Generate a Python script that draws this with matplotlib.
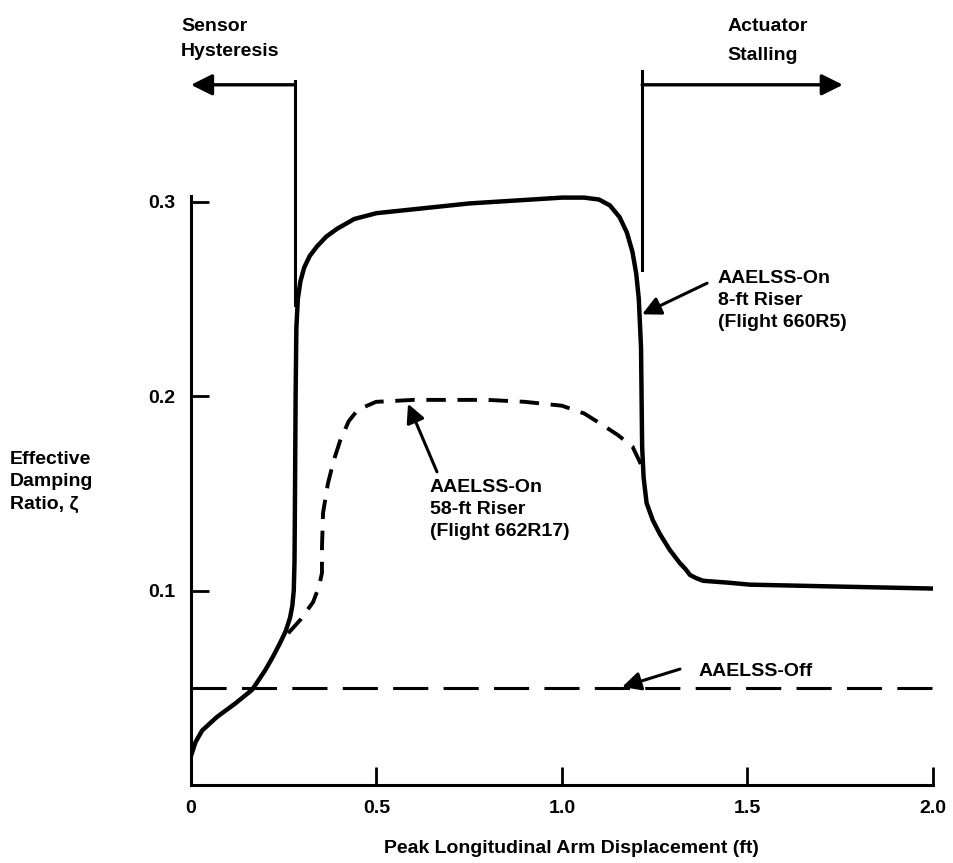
import numpy as np
import matplotlib
matplotlib.use("Agg")
import matplotlib.pyplot as plt

plt.rcParams['font.family'] = ['Liberation Sans', 'DejaVu Sans']
plt.rcParams['font.weight'] = 'bold'

# ---- data
# AAELSS-On, 8-ft riser (flight 660R5), solid
x_8ft = [0.0, 0.012, 0.03, 0.07, 0.12, 0.165, 0.20, 0.221, 0.24, 0.255, 0.267,
         0.273, 0.277, 0.279, 0.280, 0.282, 0.284, 0.288, 0.295, 0.305, 0.32,
         0.34, 0.365, 0.394, 0.44, 0.5, 0.75, 1.0, 1.06, 1.1, 1.129, 1.155,
         1.175, 1.19, 1.2, 1.207, 1.213, 1.216, 1.22, 1.228, 1.245, 1.264,
         1.29, 1.318, 1.333, 1.345, 1.36, 1.38, 1.45, 1.507, 1.75, 2.0]
y_8ft = [0.015, 0.022, 0.028, 0.035, 0.042, 0.049, 0.059, 0.066, 0.073, 0.079,
         0.086, 0.092, 0.100, 0.115, 0.140, 0.200, 0.235, 0.250, 0.259, 0.266,
         0.272, 0.277, 0.282, 0.286, 0.291, 0.294, 0.299, 0.302, 0.302, 0.301,
         0.298, 0.292, 0.284, 0.274, 0.263, 0.250, 0.225, 0.174, 0.158, 0.145,
         0.136, 0.129, 0.121, 0.114, 0.111, 0.108, 0.1065, 0.105, 0.104, 0.103,
         0.102, 0.101]

# AAELSS-On, 58-ft riser (flight 662R17), dashed
x_58ft = [0.262, 0.295, 0.329, 0.345, 0.353, 0.353, 0.356, 0.369, 0.385, 0.402,
          0.425, 0.45, 0.499, 0.6, 0.8, 0.9, 1.0, 1.06, 1.11, 1.15, 1.19, 1.215]
y_58ft = [0.078, 0.085, 0.094, 0.102, 0.109, 0.122, 0.140, 0.155, 0.167, 0.177,
          0.187, 0.193, 0.197, 0.198, 0.198, 0.197, 0.195, 0.191, 0.185, 0.180,
          0.174, 0.164]

# AAELSS-Off
x_off = [0.0, 2.0]
y_off = [0.05, 0.05]

xticks = [0, 0.5, 1.0, 1.5, 2.0]
xticklabels = ['0', '0.5', '1.0', '1.5', '2.0']
yticks = [0.1, 0.2, 0.3]
yticklabels = ['0.1', '0.2', '0.3']

# boundaries of the regions marked at the top
x_sensor = 0.280
x_stall = 1.216

fig = plt.figure(figsize=(9.54, 8.63), dpi=100)
ax = fig.add_axes([191/954, 78/863, 742/954, 778/863])
ax.set_xlim(0, 2.0)
ax.set_ylim(0, 0.40)

ax.plot(x_8ft, y_8ft, color='black', linewidth=3.2, solid_capstyle='round',
        solid_joinstyle='round')
ax.plot(x_58ft, y_58ft, color='black', linewidth=2.8, dashes=(5, 3))
ax.plot(x_off, y_off, color='black', linewidth=2.2, dashes=(11.5, 5))

# spines and ticks
for s in ['top', 'right']:
    ax.spines[s].set_visible(False)
for s in ['left', 'bottom']:
    ax.spines[s].set_linewidth(2.2)
ax.spines['left'].set_bounds(0, 0.303)
ax.set_xticks(xticks)
ax.set_xticklabels(xticklabels)
ax.set_yticks(yticks)
ax.set_yticklabels(yticklabels)
ax.tick_params(direction='in', length=13, width=2, labelsize=14, pad=11)

# region markers at the top
ax.plot([x_sensor, x_sensor], [0.362, 0.247], color='black', linewidth=2.2, clip_on=False)
ax.annotate('', xy=(0.0, 0.360), xytext=(x_sensor, 0.360),
            arrowprops=dict(arrowstyle='-|>', lw=2.4, color='black',
                            mutation_scale=32, shrinkA=0, shrinkB=0),
            annotation_clip=False)
ax.text(-0.027, 0.390, 'Sensor', fontsize=14, va='center', ha='left')
ax.text(-0.027, 0.377, 'Hysteresis', fontsize=14, va='center', ha='left')

ax.plot([x_stall, x_stall], [0.367, 0.265], color='black', linewidth=2.2, clip_on=False)
ax.annotate('', xy=(1.757, 0.360), xytext=(x_stall, 0.360),
            arrowprops=dict(arrowstyle='-|>', lw=2.4, color='black',
                            mutation_scale=32, shrinkA=0, shrinkB=0),
            annotation_clip=False)
ax.text(1.445, 0.390, 'Actuator', fontsize=14, va='center', ha='left')
ax.text(1.445, 0.375, 'Stalling', fontsize=14, va='center', ha='left')

# curve labels
arrow_kw = dict(arrowstyle='-|>', lw=2.2, color='black', mutation_scale=28,
                shrinkA=0, shrinkB=0)
ax.annotate('', xy=(1.216, 0.242), xytext=(1.391, 0.258), arrowprops=arrow_kw)
ax.text(1.420, 0.2648, 'AAELSS-On\n8-ft Riser\n(Flight 660R5)', fontsize=14,
        va='top', ha='left', linespacing=1.38)

ax.annotate('', xy=(0.585, 0.196), xytext=(0.663, 0.161), arrowprops=arrow_kw)
ax.text(0.644, 0.1575, 'AAELSS-On\n58-ft Riser\n(Flight 662R17)', fontsize=14,
        va='top', ha='left', linespacing=1.38)

ax.annotate('', xy=(1.162, 0.0504), xytext=(1.318, 0.0596), arrowprops=arrow_kw)
ax.text(1.367, 0.0585, 'AAELSS-Off', fontsize=14, va='center', ha='left')

fig.text(10/954, 1 - 482/863, 'Effective\nDamping\nRatio, ζ', fontsize=14,
         va='center', ha='left', linespacing=1.45)
fig.text(571/954, 1 - 848/863, 'Peak Longitudinal Arm Displacement (ft)',
         fontsize=14, va='center', ha='center')

fig.savefig('out.png', dpi=100)
